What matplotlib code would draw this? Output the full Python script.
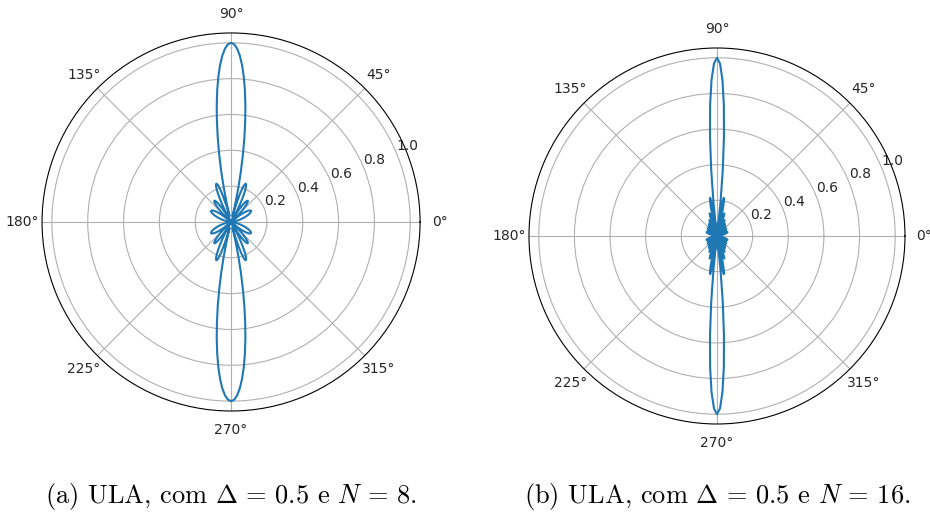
import numpy as np
import matplotlib
matplotlib.use("Agg")
import matplotlib.pyplot as plt

plt.rcParams["mathtext.fontset"] = "cm"

# normalised array factor, one quadrant (theta = 0..90 deg, 1 deg step);
# the pattern is symmetric about both axes
af_n8 = [
    0.0, 0.0002, 0.0010, 0.0022, 0.0038, 0.0060, 0.0086, 0.0117, 0.0153, 0.0193,
    0.0237, 0.0286, 0.0339, 0.0396, 0.0456, 0.0520, 0.0586, 0.0654, 0.0724, 0.0793,
    0.0863, 0.0931, 0.0997, 0.1059, 0.1117, 0.1167, 0.1210, 0.1243, 0.1265, 0.1275,
    0.1270, 0.1250, 0.1213, 0.1159, 0.1086, 0.0994, 0.0883, 0.0755, 0.0608, 0.0445,
    0.0268, 0.0080, 0.0117, 0.0318, 0.0519, 0.0716, 0.0903, 0.1074, 0.1224, 0.1348,
    0.1439, 0.1494, 0.1508, 0.1477, 0.1398, 0.1273, 0.1099, 0.0881, 0.0621, 0.0324,
    0.0, 0.0344, 0.0696, 0.1044, 0.1376, 0.1677, 0.1932, 0.2128, 0.2252, 0.2291,
    0.2236, 0.2077, 0.1810, 0.1431, 0.0943, 0.0350, 0.0341, 0.1118, 0.1966, 0.2866,
    0.3800, 0.4746, 0.5672, 0.6565, 0.7397, 0.8143, 0.8786, 0.9304, 0.9687, 0.9921,
    1.0,
]
af_n16 = [
    0.0, 0.0002, 0.0010, 0.0022, 0.0038, 0.0060, 0.0086, 0.0116, 0.0151, 0.0190,
    0.0233, 0.0279, 0.0326, 0.0376, 0.0425, 0.0473, 0.0518, 0.0558, 0.0591, 0.0615,
    0.0627, 0.0625, 0.0608, 0.0573, 0.0520, 0.0447, 0.0356, 0.0248, 0.0126, 0.0006,
    0.0143, 0.0278, 0.0403, 0.0511, 0.0593, 0.0642, 0.0651, 0.0618, 0.0540, 0.0419,
    0.0263, 0.0080, 0.0117, 0.0309, 0.0481, 0.0614, 0.0693, 0.0705, 0.0645, 0.0513,
    0.0319, 0.0081, 0.0177, 0.0424, 0.0631, 0.0766, 0.0809, 0.0746, 0.0577, 0.0319,
    0.0, 0.0337, 0.0645, 0.0874, 0.0983, 0.0944, 0.0750, 0.0418, 0.0011, 0.0475,
    0.0900, 0.1209, 0.1335, 0.1233, 0.0895, 0.0347, 0.0340, 0.1063, 0.1697, 0.2109,
    0.2181, 0.1825, 0.1005, 0.0258, 0.1886, 0.3727, 0.5620, 0.7365, 0.8771, 0.9683,
    1.0,
]
captions = [
    r"(a) ULA, com $\Delta\,=\,0.5$ e $N\,=\,8$.",
    r"(b) ULA, com $\Delta\,=\,0.5$ e $N\,=\,16$.",
]


def full_circle(quadrant):
    q = np.array(quadrant)
    half = np.concatenate([q, q[-2::-1]])
    return np.concatenate([half, half[-2::-1]])


theta = np.deg2rad(np.arange(0, 361))

fig = plt.figure(figsize=(9.3, 5.16), dpi=100)
rects = [
    [0.0452, 0.2035, 0.4065, 0.7326],
    [0.5688, 0.1783, 0.4043, 0.7287],
]
centers = [231 / 930, 717 / 930]

for rect, data, cap, cx in zip(rects, [af_n8, af_n16], captions, centers):
    ax = fig.add_axes(rect, polar=True)
    ax.plot(theta, full_circle(data), color="#1f77b4", linewidth=1.5)
    ax.set_rmax(1.055)
    ax.set_rticks([0.2, 0.4, 0.6, 0.8, 1.0])
    ax.tick_params(labelsize=10, labelcolor="#262626")
    fig.text(cx, 1 - 497 / 516, cap, ha="center", va="center",
             fontsize=19, family="cmr10")

fig.savefig("out.png", dpi=100)
